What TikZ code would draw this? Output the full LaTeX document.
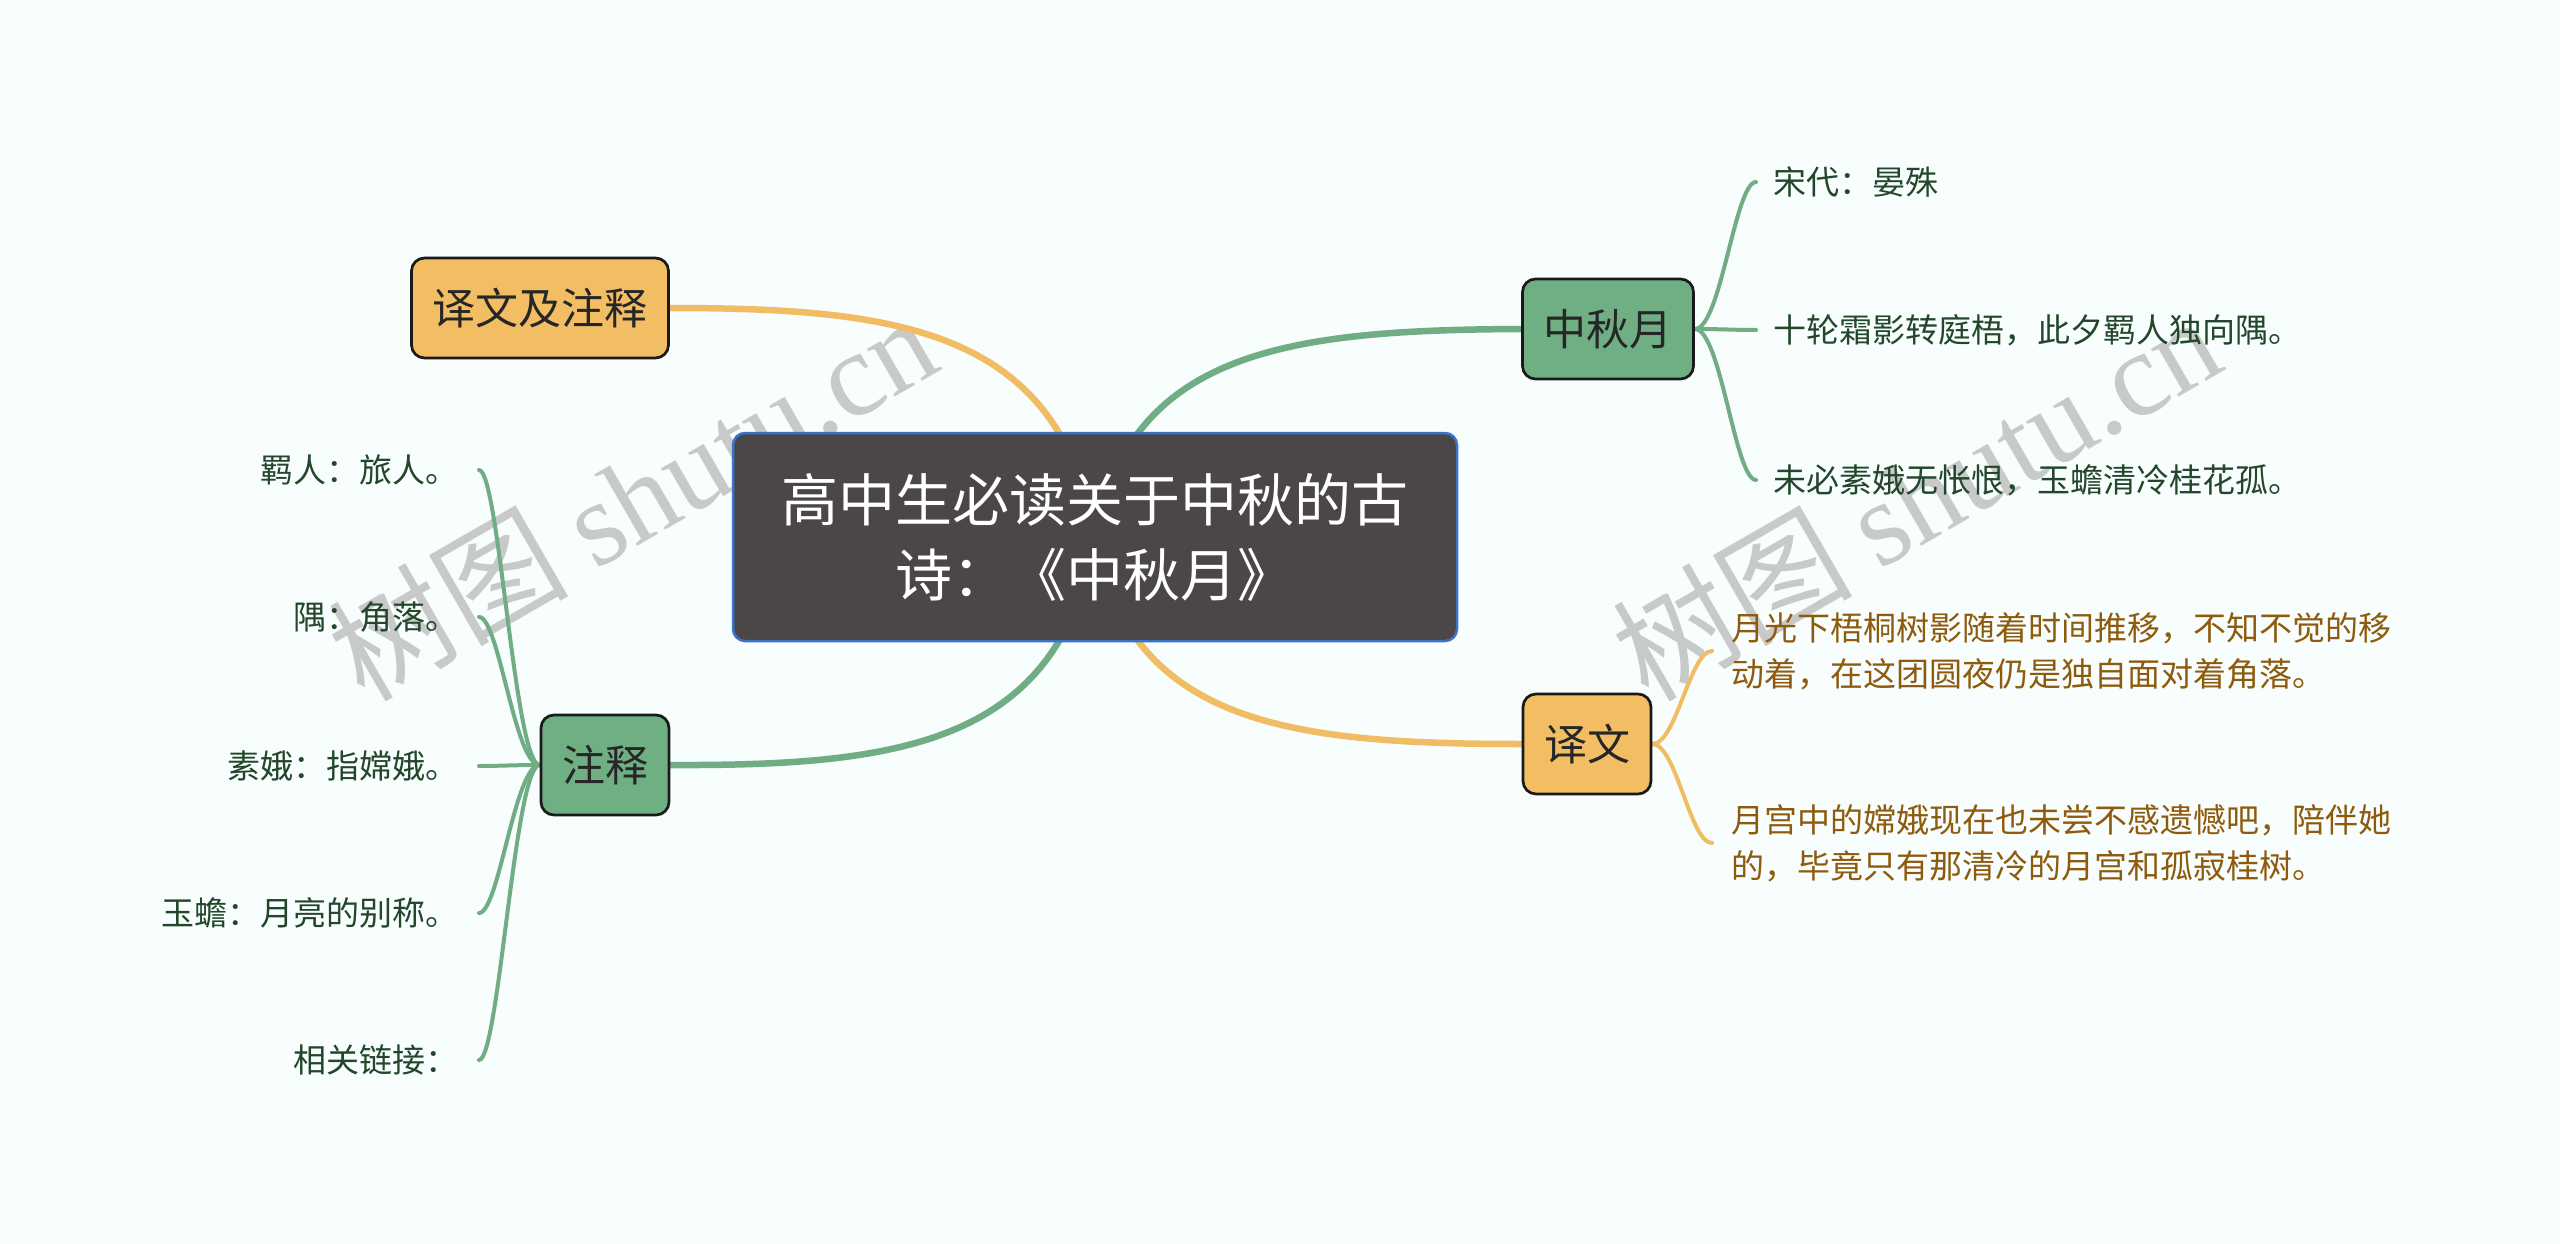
\documentclass[tikz,border=0pt]{standalone}
\usepackage{fontspec}
\setmainfont{Noto Sans CJK SC}
\newfontfamily\wmlat{Liberation Serif}
\pgfdeclarelayer{bglayer}
\pgfdeclarelayer{edgelayer}
\pgfsetlayers{bglayer,edgelayer,main}
\definecolor{bgc}{HTML}{F8FDFD}
\definecolor{orangefill}{HTML}{F2BD63}
\definecolor{greenfill}{HTML}{70AF84}
\definecolor{orangeline}{HTML}{F0BD64}
\definecolor{greenline}{HTML}{70AD84}
\definecolor{centralfill}{HTML}{4B4647}
\definecolor{blueline}{HTML}{3A73C9}
\definecolor{nodeline}{HTML}{1A1A1A}
\definecolor{nodetext}{HTML}{262626}
\definecolor{leafgreen}{HTML}{22472A}
\definecolor{leafbrown}{HTML}{8E5B0C}
\definecolor{wmgray}{HTML}{C8C9C9}
\begin{document}
\begin{tikzpicture}[x=1pt,y=-1pt,
  topicbox/.style={draw=nodeline, line width=2.7pt, rounded corners=13pt,
    minimum height=100pt, inner xsep=21pt, inner ysep=0pt,
    font=\fontsize{43}{50}\selectfont, text=nodetext},
  leaftext/.style={font=\fontsize{33}{46}\selectfont, inner sep=0pt, align=left},
  mainedge/.style={line width=6.5pt, line cap=round},
  leafedge/.style={line width=4pt, line cap=round, draw=greenline},
  leafedgeo/.style={line width=4pt, line cap=round, draw=orangeline},
  wmark/.style={rotate=30, anchor=base west, text=wmgray, inner sep=0pt,
    font=\fontsize{120}{124}\selectfont}]
\useasboundingbox (0,0) rectangle (2560,1244);
\begin{pgfonlayer}{bglayer}
\fill[bgc] (0,0) rectangle (2560,1244);
\node[wmark] (wm1) at (364,704) {树图 {\wmlat shutu.cn}};
\node[wmark] (wm2) at (1648,704) {树图 {\wmlat shutu.cn}};
\end{pgfonlayer}

% central and main topics
\node[draw=blueline, line width=2.5pt, fill=centralfill, rounded corners=12pt,
  minimum width=724pt, minimum height=208pt, align=center, text=white,
  font=\fontsize{57}{75}\selectfont] (c) at (1095,537)
  {高中生必读关于中秋的古\\诗：《中秋月》};
\node[topicbox, fill=orangefill] (yzzs) at (540,308) {译文及注释};
\node[topicbox, fill=greenfill] (zs) at (605,765) {注释};
\node[topicbox, fill=greenfill] (zqy) at (1608,329) {中秋月};
\node[topicbox, fill=orangefill] (yw) at (1587,744) {译文};

% leaves of 注释
\node[leaftext, text=leafgreen, anchor=east] (n1) at (459,470) {羁人：旅人。};
\node[leaftext, text=leafgreen, anchor=east] (n2) at (459,617) {隅：角落。};
\node[leaftext, text=leafgreen, anchor=east] (n3) at (459,766) {素娥：指嫦娥。};
\node[leaftext, text=leafgreen, anchor=east] (n4) at (459,913) {玉蟾：月亮的别称。};
\node[leaftext, text=leafgreen, anchor=east] (n5) at (459,1060) {相关链接：};

% leaves of 中秋月
\node[leaftext, text=leafgreen, anchor=west] (r1) at (1773,182) {宋代：晏殊};
\node[leaftext, text=leafgreen, anchor=west] (r2) at (1773,330) {十轮霜影转庭梧，此夕羁人独向隅。};
\node[leaftext, text=leafgreen, anchor=west] (r3) at (1773,480) {未必素娥无怅恨，玉蟾清冷桂花孤。};

% leaves of 译文
\node[leaftext, text=leafbrown, anchor=west] (b1) at (1731,651)
  {月光下梧桐树影随着时间推移，不知不觉的移\\动着，在这团圆夜仍是独自面对着角落。};
\node[leaftext, text=leafbrown, anchor=west] (b2) at (1731,843)
  {月宫中的嫦娥现在也未尝不感遗憾吧，陪伴她\\的，毕竟只有那清冷的月宫和孤寂桂树。};

\begin{pgfonlayer}{edgelayer}
\draw[mainedge, draw=orangeline] (c.center) .. controls (1060,330) and (900,308) .. (yzzs.east);
\draw[mainedge, draw=greenline] (c.center) .. controls (1130,350) and (1290,330) .. (zqy.west);
\draw[mainedge, draw=greenline] (c.center) .. controls (1060,744) and (900,766) .. (zs.east);
\draw[mainedge, draw=orangeline] (c.center) .. controls (1130,724) and (1290,744) .. (yw.west);

\foreach \n in {n1,n2,n3,n4,n5}
  \draw[leafedge] (zs.west) .. controls +(-25,0) and +(20,0) .. ([xshift=20pt]\n.east);
\foreach \n in {r1,r2,r3}
  \draw[leafedge] (zqy.east) .. controls +(26,0) and +(-21,0) .. ([xshift=-17pt]\n.west);
\foreach \n in {b1,b2}
  \draw[leafedgeo] (yw.east) .. controls +(24,0) and +(-22,0) .. ([xshift=-19pt]\n.west);
\end{pgfonlayer}
\end{tikzpicture}
\end{document}
